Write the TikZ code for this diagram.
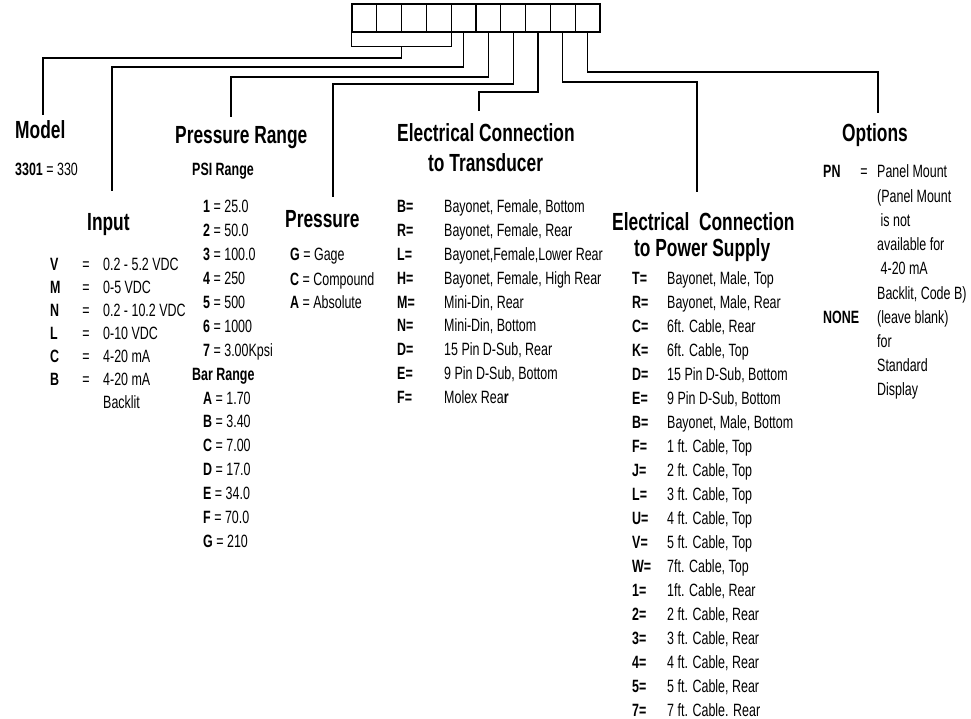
\documentclass[tikz,border=0pt]{standalone}
\usepackage{fontspec}
\setmainfont{Liberation Sans}[FakeStretch=0.70]
\usetikzlibrary{calc}
\begin{document}
\begin{tikzpicture}[x=1pt,y=-1pt,
  cell/.style={draw,line width=1.1pt,minimum width=24.8pt,minimum height=28pt,inner sep=0pt},
  conn/.style={line width=1.1pt},
  hd/.style={font=\fontsize{24.8}{27}\selectfont\bfseries,inner sep=0pt,anchor=base west},
  body/.style={font=\fontsize{17.8}{20}\selectfont,inner sep=0pt,anchor=base west},
  key/.style={font=\fontsize{17.8}{20}\selectfont\bfseries,inner sep=0pt,anchor=base west},
  eq/.style={font=\fontsize{17.8}{20}\selectfont,inner sep=0pt,anchor=base}]
\useasboundingbox (0,0) rectangle (971,719);
% code boxes
\foreach \i in {1,...,10}{\node[cell] (b\i) at ({352+24.8*(\i-0.5)},18) {};}
% connectors
\coordinate (brL) at ([yshift=-14pt]b1.south west);
\coordinate (brR) at ([yshift=-14pt]b4.south east);
\coordinate (brM) at ($(brL)!0.5!(brR)$);
\draw[conn] (b1.south west) -- (brL) -- (brR) -- (b4.south east);
\coordinate (eModel) at (43,115);
\coordinate (eInput) at (112,191);
\coordinate (ePR) at (231,117);
\coordinate (eP) at (333,197);
\coordinate (eET) at (479,111);
\coordinate (ePS) at (697,192);
\coordinate (eOpt) at (878,113);
\draw[conn] (brM) |- (43,58) -- (eModel);
\draw[conn] (b5.south) |- (112,67) -- (eInput);
\draw[conn] (b6.south) |- (231,77) -- (ePR);
\draw[conn] (b7.south) |- (333,84) -- (eP);
\draw[conn] (b8.south) |- (479,92) -- (eET);
\draw[conn] (b9.south) |- (697,82) -- (ePS);
\draw[conn] (b10.south) |- (878,72) -- (eOpt);
% Model
\node[hd] (hModel) at (15,139) {Model};
\node[body] (model1) at (15,176) {\textbf{3301} = 330};
% Input
\node[hd] (hInput) at (87,231) {Input};
\foreach \k/\v [count=\i from 0] in {V/{0.2 - 5.2 VDC},M/{0-5 VDC},N/{0.2 - 10.2 VDC},L/{0-10 VDC},C/{4-20 mA},B/{4-20 mA}}{
  \node[key] (ik\i) at (50,270+23*\i) {\k};
  \node[eq] (ie\i) at (86,270+23*\i) {=};
  \node[body] (iv\i) at (103,270+23*\i) {\v};
}
\node[body] (iv6) at (103,408) {Backlit};
% Pressure Range
\node[hd] (hPR) at (175,144) {Pressure Range};
\node[key] (psi) at (192,176) {PSI Range};
\foreach \k/\v [count=\i from 0] in {1/25.0,2/50.0,3/100.0,4/250,5/500,6/1000,7/3.00Kpsi}{
  \node[body] (pr\i) at (203,213+23.9*\i) {\textbf{\k} = \v};
}
\node[key] (bar) at (192,380) {Bar Range};
\foreach \k/\v [count=\i from 0] in {A/1.70,B/3.40,C/7.00,D/17.0,E/34.0,F/70.0,G/210}{
  \node[body] (br\i) at (203,404+23.9*\i) {\textbf{\k} = \v};
}
% Pressure
\node[hd] (hP) at (285,228) {Pressure};
\node[body] (p1) at (290,261) {\textbf{G} = Gage};
\node[body] (p2) at (290,285) {\textbf{C} = Compound};
\node[body] (p3) at (290,308) {\textbf{A} = Absolute};
% Electrical connection to transducer
\node[hd] (hET1) at (397,141.5) {Electrical Connection};
\node[hd] (hET2) at (428,171.5) {to Transducer};
\foreach \k/\v [count=\i from 0] in {B/{Bayonet, Female, Bottom},R/{Bayonet, Female, Rear},L/{Bayonet,Female,Lower Rear},H/{Bayonet, Female, High Rear},M/{Mini-Din, Rear},N/{Mini-Din, Bottom},D/{15 Pin D-Sub, Rear},E/{9 Pin D-Sub, Bottom},F/{Molex Rea\textbf{r}}}{
  \node[key] (tk\i) at (397,213+23.75*\i) {\k=};
  \node[body] (tv\i) at (444,213+23.75*\i) {\v};
}
% Electrical connection to power supply
\node[hd] (hPS1) at (612,230.5) {Electrical\ \ Connection};
\node[hd] (hPS2) at (634,256.5) {to Power Supply};
\foreach \k/\v [count=\i from 0] in {T/{Bayonet, Male, Top},R/{Bayonet, Male, Rear},C/{6ft. Cable, Rear},K/{6ft. Cable, Top},D/{15 Pin D-Sub, Bottom},E/{9 Pin D-Sub, Bottom},B/{Bayonet, Male, Bottom},F/{1 ft. Cable, Top},J/{2 ft. Cable, Top},L/{3 ft. Cable, Top},U/{4 ft. Cable, Top},V/{5 ft. Cable, Top},W/{7ft. Cable, Top},1/{1ft. Cable, Rear},2/{2 ft. Cable, Rear},3/{3 ft. Cable, Rear},4/{4 ft. Cable, Rear},5/{5 ft. Cable, Rear},7/{7 ft. Cable. Rear}}{
  \node[key] (sk\i) at (632,284+24*\i) {\k=};
  \node[body] (sv\i) at (667,284+24*\i) {\v};
}
% Options
\node[hd] (hOpt) at (842,141.5) {Options};
\node[key] (opn) at (823,178) {PN};
\node[eq] (ope) at (864,178) {=};
\node[key] (onone) at (823,323) {NONE};
\foreach \v [count=\i from 0] in {{Panel Mount},{(Panel Mount},{\ is not},{available for},{\ 4-20 mA},{Backlit, Code B)},{(leave blank)},{for},{Standard},{Display}}{
  \node[body] (ov\i) at (877,178+24.2*\i) {\v};
}
\end{tikzpicture}
\end{document}
